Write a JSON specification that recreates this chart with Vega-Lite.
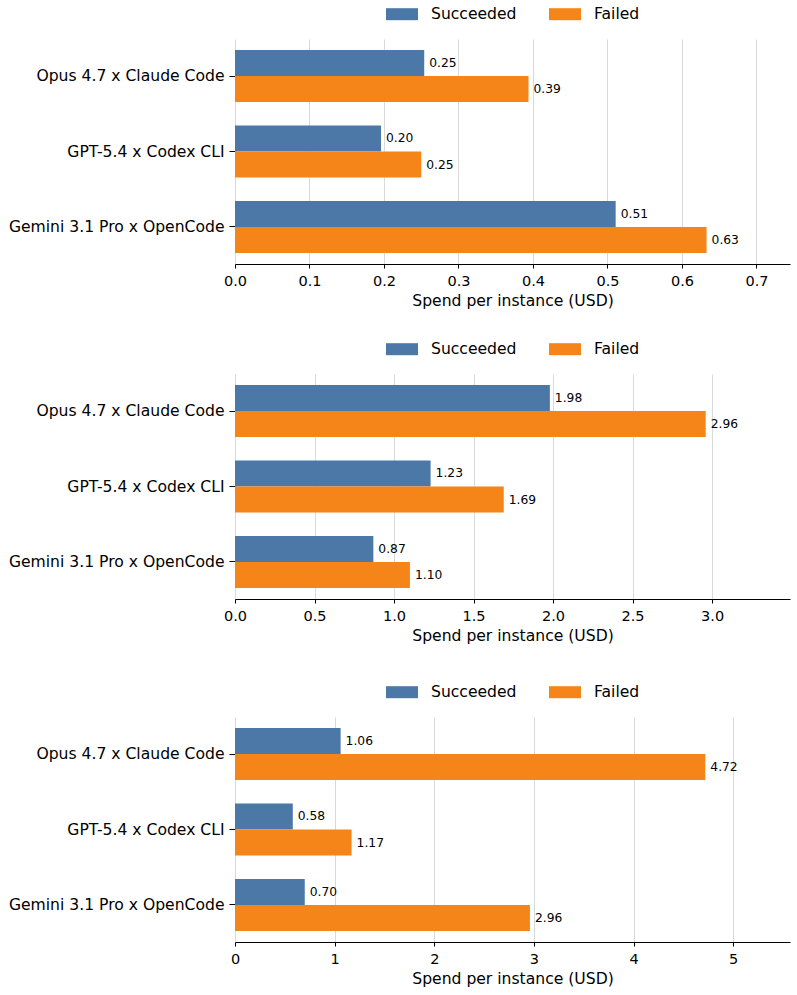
{
  "$schema": "https://vega.github.io/schema/vega-lite/v6.json",
  "padding": {"left": 8, "top": -2, "right": 5, "bottom": 5},
  "config": {
    "font": "DejaVu Sans",
    "view": {"stroke": null},
    "axis": {"labelFont": "DejaVu Sans", "titleFont": "DejaVu Sans", "labelColor": "#000000", "titleColor": "#000000", "titleFontWeight": "normal"},
    "legend": {"labelFont": "DejaVu Sans"}
  },
  "spacing": 31,
  "resolve": {"scale": {"x": "independent", "y": "independent", "color": "independent", "yOffset": "independent"}, "legend": {"color": "independent"}},
  "vconcat": [
    {
      "spacing": 23,
      "resolve": {"scale": {"x": "independent", "y": "independent", "color": "independent", "yOffset": "independent"}, "legend": {"color": "independent"}},
      "vconcat": [
        {
          "width": 555,
          "height": 225,
          "data": {"values": [
            {"agent": "Opus 4.7 x Claude Code", "outcome": "Succeeded", "spend": 0.254},
            {"agent": "Opus 4.7 x Claude Code", "outcome": "Failed", "spend": 0.394},
            {"agent": "GPT-5.4 x Codex CLI", "outcome": "Succeeded", "spend": 0.196},
            {"agent": "GPT-5.4 x Codex CLI", "outcome": "Failed", "spend": 0.250},
            {"agent": "Gemini 3.1 Pro x OpenCode", "outcome": "Succeeded", "spend": 0.511},
            {"agent": "Gemini 3.1 Pro x OpenCode", "outcome": "Failed", "spend": 0.633}
          ]},
          "encoding": {
            "y": {"field": "agent", "type": "nominal", "sort": ["Opus 4.7 x Claude Code", "GPT-5.4 x Codex CLI", "Gemini 3.1 Pro x OpenCode"], "scale": {"paddingInner": 0.311, "paddingOuter": 0.146}, "axis": {"title": null, "domain": false, "grid": false, "ticks": true, "tickSize": 6, "tickColor": "#000000", "labelFontSize": 15.6, "labelPadding": 5, "labelLimit": 0}},
            "yOffset": {"field": "outcome", "type": "nominal", "sort": ["Succeeded", "Failed"]},
            "x": {"field": "spend", "type": "quantitative", "scale": {"domain": [0, 0.745], "nice": false, "zero": true}, "axis": {"title": "Spend per instance (USD)", "values": [0, 0.1, 0.2, 0.3, 0.4, 0.5, 0.6, 0.7], "format": ".1f", "grid": true, "gridColor": "#d9d9d9", "gridWidth": 1, "domainColor": "#000000", "domainWidth": 1, "tickColor": "#000000", "tickSize": 4, "labelFontSize": 14.5, "labelPadding": 6, "titleFontSize": 15.6, "titlePadding": 6, "labelFlush": false}}
          },
          "layer": [
            {
              "mark": {"type": "bar"},
              "encoding": {
                "color": {"field": "outcome", "type": "nominal", "scale": {"domain": ["Succeeded", "Failed"], "range": ["#4c78a8", "#f58518"]}, "legend": {"title": null, "orient": "none", "legendX": 151, "legendY": -41, "direction": "horizontal", "symbolType": "M-1,-0.375H1V0.375H-1Z", "symbolSize": 1024, "symbolStrokeWidth": 0, "labelFontSize": 15.6, "labelColor": "#000000", "labelOffset": 13, "columnPadding": 32, "padding": 0}}
              }
            },
            {
              "mark": {"type": "text", "align": "left", "baseline": "middle", "dx": 5, "fontSize": 12.3, "color": "#000000"},
              "encoding": {"text": {"field": "spend", "type": "quantitative", "format": ".2f"}}
            }
          ]
        },
        {
          "width": 555,
          "height": 225,
          "data": {"values": [
            {"agent": "Opus 4.7 x Claude Code", "outcome": "Succeeded", "spend": 1.98},
            {"agent": "Opus 4.7 x Claude Code", "outcome": "Failed", "spend": 2.96},
            {"agent": "GPT-5.4 x Codex CLI", "outcome": "Succeeded", "spend": 1.23},
            {"agent": "GPT-5.4 x Codex CLI", "outcome": "Failed", "spend": 1.69},
            {"agent": "Gemini 3.1 Pro x OpenCode", "outcome": "Succeeded", "spend": 0.87},
            {"agent": "Gemini 3.1 Pro x OpenCode", "outcome": "Failed", "spend": 1.10}
          ]},
          "encoding": {
            "y": {"field": "agent", "type": "nominal", "sort": ["Opus 4.7 x Claude Code", "GPT-5.4 x Codex CLI", "Gemini 3.1 Pro x OpenCode"], "scale": {"paddingInner": 0.311, "paddingOuter": 0.146}, "axis": {"title": null, "domain": false, "grid": false, "ticks": true, "tickSize": 6, "tickColor": "#000000", "labelFontSize": 15.6, "labelPadding": 5, "labelLimit": 0}},
            "yOffset": {"field": "outcome", "type": "nominal", "sort": ["Succeeded", "Failed"]},
            "x": {"field": "spend", "type": "quantitative", "scale": {"domain": [0, 3.49], "nice": false, "zero": true}, "axis": {"title": "Spend per instance (USD)", "values": [0, 0.5, 1, 1.5, 2, 2.5, 3], "format": ".1f", "grid": true, "gridColor": "#d9d9d9", "gridWidth": 1, "domainColor": "#000000", "domainWidth": 1, "tickColor": "#000000", "tickSize": 4, "labelFontSize": 14.5, "labelPadding": 6, "titleFontSize": 15.6, "titlePadding": 6, "labelFlush": false}}
          },
          "layer": [
            {
              "mark": {"type": "bar"},
              "encoding": {
                "color": {"field": "outcome", "type": "nominal", "scale": {"domain": ["Succeeded", "Failed"], "range": ["#4c78a8", "#f58518"]}, "legend": {"title": null, "orient": "none", "legendX": 151, "legendY": -41, "direction": "horizontal", "symbolType": "M-1,-0.375H1V0.375H-1Z", "symbolSize": 1024, "symbolStrokeWidth": 0, "labelFontSize": 15.6, "labelColor": "#000000", "labelOffset": 13, "columnPadding": 32, "padding": 0}}
              }
            },
            {
              "mark": {"type": "text", "align": "left", "baseline": "middle", "dx": 5, "fontSize": 12.3, "color": "#000000"},
              "encoding": {"text": {"field": "spend", "type": "quantitative", "format": ".2f"}}
            }
          ]
        }
      ]
    },
    {
      "width": 555,
      "height": 225,
      "data": {"values": [
        {"agent": "Opus 4.7 x Claude Code", "outcome": "Succeeded", "spend": 1.06},
        {"agent": "Opus 4.7 x Claude Code", "outcome": "Failed", "spend": 4.72},
        {"agent": "GPT-5.4 x Codex CLI", "outcome": "Succeeded", "spend": 0.58},
        {"agent": "GPT-5.4 x Codex CLI", "outcome": "Failed", "spend": 1.17},
        {"agent": "Gemini 3.1 Pro x OpenCode", "outcome": "Succeeded", "spend": 0.70},
        {"agent": "Gemini 3.1 Pro x OpenCode", "outcome": "Failed", "spend": 2.96}
      ]},
      "encoding": {
        "y": {"field": "agent", "type": "nominal", "sort": ["Opus 4.7 x Claude Code", "GPT-5.4 x Codex CLI", "Gemini 3.1 Pro x OpenCode"], "scale": {"paddingInner": 0.311, "paddingOuter": 0.146}, "axis": {"title": null, "domain": false, "grid": false, "ticks": true, "tickSize": 6, "tickColor": "#000000", "labelFontSize": 15.6, "labelPadding": 5, "labelLimit": 0}},
        "yOffset": {"field": "outcome", "type": "nominal", "sort": ["Succeeded", "Failed"]},
        "x": {"field": "spend", "type": "quantitative", "scale": {"domain": [0, 5.57], "nice": false, "zero": true}, "axis": {"title": "Spend per instance (USD)", "values": [0, 1, 2, 3, 4, 5], "format": "d", "grid": true, "gridColor": "#d9d9d9", "gridWidth": 1, "domainColor": "#000000", "domainWidth": 1, "tickColor": "#000000", "tickSize": 4, "labelFontSize": 14.5, "labelPadding": 6, "titleFontSize": 15.6, "titlePadding": 6, "labelFlush": false}}
      },
      "layer": [
        {
          "mark": {"type": "bar"},
          "encoding": {
            "color": {"field": "outcome", "type": "nominal", "scale": {"domain": ["Succeeded", "Failed"], "range": ["#4c78a8", "#f58518"]}, "legend": {"title": null, "orient": "none", "legendX": 151, "legendY": -41, "direction": "horizontal", "symbolType": "M-1,-0.375H1V0.375H-1Z", "symbolSize": 1024, "symbolStrokeWidth": 0, "labelFontSize": 15.6, "labelColor": "#000000", "labelOffset": 13, "columnPadding": 32, "padding": 0}}
          }
        },
        {
          "mark": {"type": "text", "align": "left", "baseline": "middle", "dx": 5, "fontSize": 12.3, "color": "#000000"},
          "encoding": {"text": {"field": "spend", "type": "quantitative", "format": ".2f"}}
        }
      ]
    }
  ]
}
